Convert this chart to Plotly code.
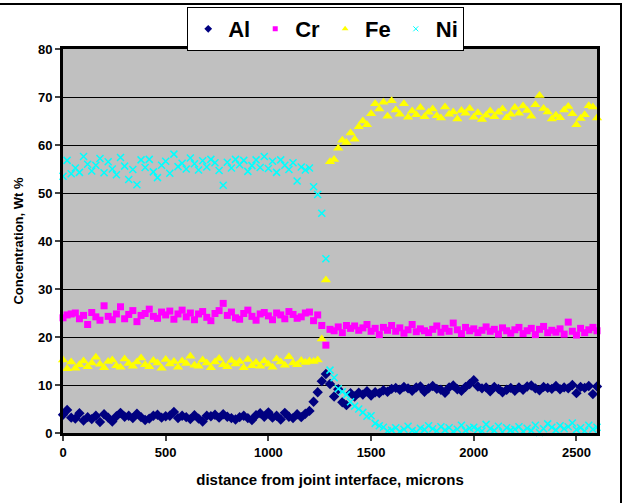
import plotly.graph_objects as go

distance = [
    0, 20, 40, 60, 80, 100, 120, 140, 160, 180,
    200, 220, 240, 260, 280, 300, 320, 340, 360, 380,
    400, 420, 440, 460, 480, 500, 520, 540, 560, 580,
    600, 620, 640, 660, 680, 700, 720, 740, 760, 780,
    800, 820, 840, 860, 880, 900, 920, 940, 960, 980,
    1000, 1020, 1040, 1060, 1080, 1100, 1120, 1140, 1160, 1180,
    1200, 1220, 1240, 1260, 1280, 1300, 1320, 1340, 1360, 1380,
    1400, 1420, 1440, 1460, 1480, 1500, 1520, 1540, 1560, 1580,
    1600, 1620, 1640, 1660, 1680, 1700, 1720, 1740, 1760, 1780,
    1800, 1820, 1840, 1860, 1880, 1900, 1920, 1940, 1960, 1980,
    2000, 2020, 2040, 2060, 2080, 2100, 2120, 2140, 2160, 2180,
    2200, 2220, 2240, 2260, 2280, 2300, 2320, 2340, 2360, 2380,
    2400, 2420, 2440, 2460, 2480, 2500, 2520, 2540, 2560, 2580,
    2600,
]

al = [
    3.8, 4.8, 3.2, 3.0, 4.1, 2.6, 3.3, 2.9, 3.6, 2.3,
    3.9, 3.2, 2.4, 3.5, 4.2, 3.4, 3.6, 3.1, 4.0, 3.3,
    2.7, 3.0, 3.6, 3.8, 3.2, 3.5, 3.6, 4.4, 3.1, 3.6,
    3.3, 2.9, 3.7, 3.0, 2.4, 3.6, 3.5, 3.8, 3.2, 3.9,
    3.4, 3.1, 2.8, 3.3, 3.6, 3.1, 2.7, 3.7, 4.1, 3.4,
    4.3, 3.2, 3.6, 2.8, 4.2, 3.4, 3.1, 3.9, 3.3, 4.0,
    4.6, 6.5, 8.5, 10.8, 12.3, 10.2, 7.6, 9.1, 6.4, 5.8,
    8.3, 7.6, 8.4, 8.0, 8.7, 7.8, 8.5, 8.3, 8.9, 8.6,
    9.2, 9.4, 9.0, 9.6, 9.3, 8.8, 9.5, 9.7, 8.6, 9.3,
    9.8, 9.2, 9.0, 8.4, 9.5, 9.9, 9.1, 8.8, 9.6, 10.2,
    11.0, 9.7, 9.3, 9.5, 8.7, 9.6, 9.2, 8.5, 9.0, 9.4,
    8.8, 9.5, 9.0, 9.7, 9.9, 9.3, 8.9, 9.6, 9.4, 9.2,
    9.8, 9.1, 9.5, 9.3, 10.0, 8.3, 9.6, 9.4, 9.8, 8.1,
    9.7,
]

cr = [
    24.0, 24.6, 24.8, 25.0, 23.8, 24.5, 22.6, 25.1, 24.2, 23.5,
    26.5, 24.3, 23.6, 24.8, 26.3, 23.8, 24.7, 25.5, 23.2, 24.5,
    24.9, 25.8, 24.3, 23.9, 25.2, 24.6, 25.4, 23.7, 24.8, 25.6,
    24.2, 25.0, 23.6, 24.8, 25.3, 24.1, 23.4, 24.9, 25.5, 27.0,
    24.5, 25.2, 24.0, 23.7, 24.9, 25.6, 24.3, 23.5, 24.8, 25.1,
    24.4, 23.6, 25.0, 24.6, 23.8, 25.3, 24.7, 23.9, 24.2, 25.0,
    25.2, 23.4, 24.6, 22.4, 18.3, 21.6, 21.3, 22.1, 20.9, 22.4,
    21.8, 22.3, 21.4, 21.9, 22.6, 21.2, 21.8, 20.5, 22.0, 21.4,
    22.4, 21.2, 21.9, 20.8, 21.5, 22.6, 21.1, 21.7, 21.3, 20.9,
    21.6, 22.3, 21.0, 21.8, 21.2, 22.9, 21.5, 20.7, 22.0, 21.3,
    21.7, 20.9, 21.4, 22.1, 21.2, 21.6, 20.6, 21.9, 21.3, 20.8,
    21.5, 22.0, 20.7, 21.3, 21.8, 20.5, 21.6, 22.2, 20.9, 21.4,
    21.0, 21.7, 20.6, 23.1, 21.2, 20.4, 21.8, 20.9, 21.5, 22.0,
    21.3,
]

fe = [
    15.2, 13.4, 14.8, 13.5, 14.2, 15.0, 13.8, 14.6, 15.8, 14.3,
    13.6, 14.9, 15.2, 14.0, 13.7, 15.4, 14.5, 13.9, 14.8, 15.6,
    14.2, 13.8, 15.1, 14.6, 13.5, 15.3, 14.4, 14.9, 13.7, 15.0,
    14.5, 16.0, 14.1, 13.9, 15.2, 14.6, 13.6, 14.8, 15.5, 14.2,
    13.8, 15.1, 14.4, 14.9, 13.6, 15.3, 14.0, 14.7, 13.9, 15.0,
    14.3, 13.7, 15.4, 14.8, 14.1, 15.9, 14.6, 14.2, 15.1, 14.7,
    15.0, 14.9, 15.2, 19.6, 31.9, 56.5, 57.0, 59.3, 61.0, 60.5,
    62.5, 61.2, 63.8, 65.0, 64.2, 66.5, 68.6, 67.5, 68.9, 66.0,
    69.2, 67.3, 66.4, 68.6, 65.8, 67.1, 66.3, 67.8, 65.9, 66.8,
    67.5, 66.1, 65.6, 67.9, 66.4, 66.9, 65.4, 67.2, 66.6, 67.6,
    65.8, 66.7, 65.3, 66.2, 67.1, 65.9, 66.8, 67.5, 65.7, 66.4,
    67.8, 66.6, 68.1, 67.2, 66.0, 68.4, 70.3, 67.6, 66.9, 65.4,
    66.2, 65.7, 67.3, 68.0, 66.5, 64.2, 65.5, 66.3, 68.2, 67.9,
    65.6,
]

ni = [
    53.5, 56.8, 54.0, 55.2, 54.3, 57.6, 56.0, 54.6, 55.8, 57.2,
    54.2, 56.5, 55.0, 53.8, 57.4, 55.6, 52.8, 54.9, 51.7, 56.9,
    55.3, 57.0, 54.4, 53.2, 55.8, 56.6, 54.1, 58.1, 55.5, 56.2,
    55.0, 57.3, 56.1, 54.8, 56.7, 55.4, 57.0, 56.3, 54.7, 51.6,
    56.4, 55.2, 57.0, 55.9, 56.8, 54.5, 55.7, 56.9, 55.3, 57.6,
    55.1, 56.6, 54.3, 56.9, 55.8, 54.9, 56.3, 52.5, 55.4, 54.8,
    55.2, 51.3, 49.7, 45.8, 36.3, 13.1, 11.5, 9.2, 8.6, 8.0,
    6.5, 5.6, 5.0, 4.3, 3.5, 3.6, 2.0, 1.5, 1.2, 0.4,
    0.6, 1.1, 0.3, 0.8, 1.4, 0.5, 0.2, 1.0, 0.7, 1.5,
    0.9, 0.4, 1.3, 0.6, 1.1, 0.3, 0.8, 1.6, 0.5, 1.0,
    1.2, 0.7, 0.4, 1.8, 0.9, 0.5, 1.4, 0.2, 1.1, 0.6,
    0.8, 1.3, 0.3, 1.0, 0.5, 1.6, 0.1, 0.9, 1.9, 1.2,
    0.6, 1.5, 0.9, 1.3, 2.1, 0.7, 1.1, 0.4, 1.6, 0.8,
    1.2,
]

series_names = ["Al", "Cr", "Fe", "Ni"]
x_ticks = [0, 500, 1000, 1500, 2000, 2500]
y_ticks = [0, 10, 20, 30, 40, 50, 60, 70, 80]

font_family = "Liberation Sans, Arial, sans-serif"

styles = [
    dict(symbol="diamond", size=8, color="#000080"),
    dict(symbol="square", size=7, color="#FF00FF"),
    dict(symbol="triangle-up", size=9, color="#FFFF00"),
    dict(symbol="x-thin", size=7, color="#00FFFF", line=dict(color="#00FFFF", width=1.5)),
]
legend_styles = [
    dict(symbol="diamond", size=6, color="#000080"),
    dict(symbol="square", size=5, color="#FF00FF"),
    dict(symbol="triangle-up", size=6, color="#FFFF00"),
    dict(symbol="x-thin", size=5, color="#00FFFF", line=dict(color="#00FFFF", width=1)),
]

H = 503
M_TOP, M_BOT = 0, 70
PLOT_TOP_PX = 49
paper_h = H - M_TOP - M_BOT
y_dom_top = 1 - (PLOT_TOP_PX - M_TOP) / paper_h

fig = go.Figure()
for name, ys, st in zip(series_names, [al, cr, fe, ni], styles):
    fig.add_trace(go.Scatter(x=distance, y=ys, mode="markers", name=name,
                             cliponaxis=False, showlegend=False, marker=st))
for name, st in zip(series_names, legend_styles):
    fig.add_trace(go.Scatter(x=[None], y=[None], mode="markers", name=name,
                             showlegend=True, marker=st))

fig.update_layout(
    width=626, height=H,
    margin=dict(l=63, r=29, t=M_TOP, b=M_BOT, autoexpand=False),
    paper_bgcolor="white",
    plot_bgcolor="#C0C0C0",
    font=dict(family=font_family, color="black", size=13),
    legend=dict(
        orientation="h", x=0.492, xanchor="center",
        y=1 - 7 / paper_h, yanchor="top",
        bgcolor="white", bordercolor="black", borderwidth=1,
        font=dict(size=22, family=font_family, weight="bold"),
        itemsizing="trace", tracegroupgap=0,
    ),
    xaxis=dict(
        range=[0, 2600], tickvals=x_ticks, ticks="outside", ticklen=5, tickwidth=2,
        showline=True, linecolor="black", linewidth=3, mirror=True,
        showgrid=False, zeroline=False,
        tickfont=dict(size=13, family=font_family, weight="bold"),
        title=dict(text="distance from joint interface, microns", standoff=16,
                   font=dict(size=15, family=font_family, weight="bold")),
    ),
    yaxis=dict(
        domain=[0, y_dom_top],
        range=[0, 80], tickvals=y_ticks, ticks="outside", ticklen=5, tickwidth=2,
        showline=True, linecolor="black", linewidth=3, mirror=True,
        showgrid=True, gridcolor="black", gridwidth=1, zeroline=False,
        tickfont=dict(size=13, family=font_family, weight="bold"),
        title=dict(text="Concentration, Wt %", standoff=12,
                   font=dict(size=13, family=font_family, weight="bold")),
    ),
    shapes=[
        dict(type="rect", xref="paper", yref="paper",
             x0=-0.2, x1=(621 - 63) / 534, y0=-0.3, y1=1 - 4 / paper_h,
             line=dict(color="black", width=2), fillcolor="rgba(0,0,0,0)", layer="below"),
    ],
)

fig.write_html("out.html")
